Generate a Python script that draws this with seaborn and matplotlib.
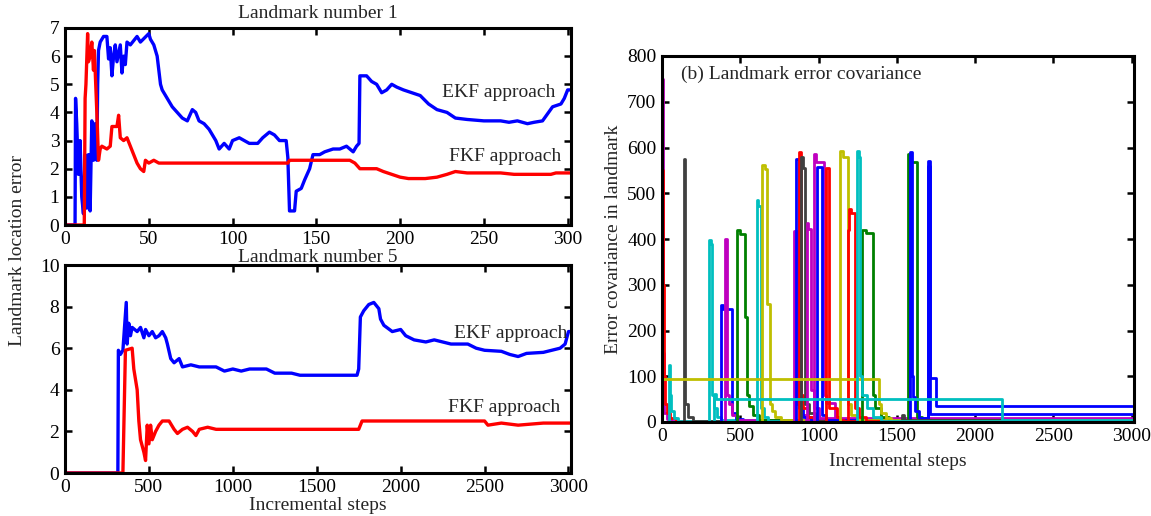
import matplotlib
matplotlib.use("Agg")
import matplotlib.pyplot as plt
import numpy as np
import pandas as pd
import seaborn as sns

# ---------------- Landmark 1 location error (steps 0-300) ----------------
lm1_ekf_step = [0, 6, 6.3, 7, 8, 9, 10, 11, 12, 13, 14, 15, 16, 17, 18, 19, 19.5, 20, 21, 23,
                25, 26, 27, 28, 29, 30, 31, 33, 34, 35, 36, 37, 39, 43, 45, 50, 51, 53, 55, 57,
                58, 61, 64, 67, 70, 73, 76, 78, 80, 83, 86, 88, 90, 92, 95, 98, 100, 104, 110,
                115, 118, 122, 125, 128, 132, 133, 134, 137, 138, 141, 143, 146, 148, 152, 155,
                160, 164, 168, 172, 174, 175.5, 176, 180, 183, 186, 189, 192, 195, 198, 202, 207,
                212, 217, 222, 228, 233, 240, 250, 260, 265, 270, 276, 280, 285, 288, 291, 296,
                298, 300, 302]
lm1_ekf_err = [0, 0, 4.5, 3.6, 1.8, 3.0, 1.0, 0.4, 2.5, 0.6, 2.5, 0.5, 3.7, 2.3, 3.6, 2.3, 5.0,
               6.2, 6.5, 6.7, 6.7, 5.9, 6.3, 5.3, 6.0, 6.4, 5.8, 6.4, 5.4, 6.0, 5.7, 6.5, 6.4,
               6.7, 6.5, 6.8, 6.6, 6.4, 6.0, 5.0, 4.8, 4.5, 4.2, 4.0, 3.8, 3.7, 4.1, 4.0, 3.7,
               3.6, 3.4, 3.2, 3.0, 2.7, 2.9, 2.7, 3.0, 3.1, 2.9, 2.9, 3.1, 3.3, 3.2, 3.0, 3.0,
               2.4, 0.5, 0.5, 1.2, 1.3, 1.6, 2.0, 2.5, 2.5, 2.6, 2.7, 2.7, 2.8, 2.6, 2.8, 2.9,
               5.3, 5.3, 5.1, 5.0, 4.7, 4.8, 5.0, 4.9, 4.8, 4.7, 4.6, 4.3, 4.1, 4.0, 3.8, 3.75,
               3.7, 3.7, 3.65, 3.7, 3.6, 3.65, 3.7, 3.95, 4.2, 4.3, 4.5, 4.8, 4.8]

lm1_fkf_step = [0, 11.5, 12, 12.5, 13.5, 14, 15, 16, 17, 17.5, 18, 19, 20, 21, 22, 25, 27, 28,
                31, 32, 33, 35, 37, 39, 41, 43, 45, 47, 48, 50, 53, 56, 133, 134, 170, 173, 176,
                186, 190, 195, 200, 205, 215, 222, 228, 233, 240, 260, 268, 290, 293, 302]
lm1_fkf_err = [0, 0, 4.5, 5.0, 6.8, 5.8, 6.0, 6.5, 5.5, 6.2, 5.5, 4.0, 2.3, 2.7, 2.8, 2.7, 2.8,
               3.5, 3.5, 3.9, 3.1, 3.0, 3.1, 2.8, 2.5, 2.2, 2.0, 1.9, 2.3, 2.2, 2.3, 2.2, 2.2,
               2.3, 2.3, 2.2, 2.0, 2.0, 1.9, 1.8, 1.7, 1.65, 1.65, 1.7, 1.8, 1.9, 1.85, 1.85,
               1.8, 1.8, 1.85, 1.85]

# ---------------- Landmark 5 location error (steps 0-3000) ----------------
lm5_ekf_step = [0, 315, 318, 330, 345, 365, 370, 380, 390, 400, 430, 450, 470, 480, 500, 520,
                540, 560, 580, 600, 610, 630, 650, 680, 700, 750, 800, 900, 950, 1000, 1050,
                1100, 1200, 1250, 1350, 1400, 1740, 1750, 1760, 1780, 1810, 1840, 1870, 1880,
                1900, 1950, 2000, 2030, 2080, 2150, 2200, 2300, 2400, 2450, 2500, 2600, 2650,
                2700, 2750, 2850, 2900, 2950, 2980, 3000, 3020]
lm5_ekf_err = [0, 0, 5.9, 5.7, 5.9, 8.2, 6.2, 7.2, 6.6, 7.0, 6.8, 7.0, 6.5, 6.9, 6.6, 6.8, 6.5,
               6.6, 6.8, 6.5, 6.2, 5.5, 5.3, 5.5, 5.1, 5.2, 5.1, 5.1, 4.9, 5.0, 4.9, 5.0, 5.0,
               4.8, 4.8, 4.7, 4.7, 5.0, 7.5, 7.8, 8.1, 8.2, 7.9, 7.4, 7.1, 6.8, 6.9, 6.6, 6.4,
               6.3, 6.4, 6.2, 6.2, 6.0, 5.9, 5.85, 5.7, 5.6, 5.75, 5.8, 5.9, 6.0, 6.2, 6.8, 6.8]

lm5_fkf_step = [0, 345, 360, 400, 410, 430, 440, 450, 470, 480, 490, 500, 510, 520, 540, 560,
                580, 620, 650, 670, 700, 730, 760, 780, 800, 850, 900, 1750, 1770, 2500, 2520,
                2600, 2700, 2850, 3020]
lm5_fkf_err = [0, 0, 5.9, 6.0, 5.0, 4.0, 2.5, 1.6, 1.0, 0.6, 2.3, 1.4, 2.3, 1.6, 2.0, 2.3, 2.5,
               2.5, 2.1, 1.9, 2.1, 2.2, 2.0, 1.8, 2.1, 2.2, 2.1, 2.1, 2.5, 2.5, 2.3, 2.4, 2.3,
               2.4, 2.4]

# ---------------- Landmark error covariance, one list pair per landmark ----------------
BLUE, RED, GREEN = "#0000ff", "#ff0000", "#008000"
CYAN, MAGENTA, YELLOW, GRAY = "#00bfbf", "#bf00bf", "#bfbf00", "#404040"

landmarks = [
    # (colour, steps, covariance)
    (MAGENTA, [0, 4, 7, 10, 15, 30, 60, 3000], [750, 400, 150, 60, 20, 6, 2, 2]),
    (RED, [0, 3, 8, 12, 20, 30, 50, 90, 3000], [0, 550, 300, 100, 40, 20, 8, 3, 3]),
    (CYAN, [0, 45, 52, 60, 75, 100, 3000], [0, 125, 60, 25, 8, 3, 2]),
    (GRAY, [0, 140, 150, 165, 200, 3000], [0, 575, 40, 10, 3, 2]),
    (CYAN, [0, 300, 310, 318, 330, 350, 380, 3000], [0, 398, 390, 60, 30, 12, 4, 2]),
    (BLUE, [0, 375, 392, 450, 470, 520, 3000], [0, 255, 248, 20, 6, 2, 2]),
    (MAGENTA, [0, 405, 415, 430, 450, 480, 3000], [0, 400, 60, 40, 15, 4, 2]),
    (GREEN, [0, 480, 500, 530, 540, 555, 580, 620, 3000], [0, 420, 410, 230, 60, 35, 15, 4, 2]),
    (CYAN, [0, 605, 615, 635, 650, 680, 3000], [0, 485, 472, 30, 10, 3, 2]),
    (YELLOW, [0, 640, 655, 670, 690, 700, 720, 760, 3000], [0, 562, 552, 258, 40, 25, 12, 4, 2]),
    (MAGENTA, [0, 845, 860, 880, 920, 3000], [0, 418, 40, 15, 4, 2]),
    (BLUE, [0, 858, 875, 900, 950, 3000], [0, 575, 30, 10, 3, 2]),
    (RED, [0, 872, 885, 900, 930, 980, 3000], [0, 590, 60, 30, 10, 3, 2]),
    (GRAY, [0, 888, 900, 915, 940, 980, 1050, 3000], [0, 580, 555, 40, 20, 6, 2, 2]),
    (MAGENTA, [0, 925, 935, 950, 970, 1000, 3000], [0, 435, 422, 70, 30, 8, 2]),
    (MAGENTA, [0, 968, 985, 1035, 1045, 1105, 1115, 1150, 3000], [0, 585, 568, 60, 42, 12, 5, 2, 2]),
    (BLUE, [0, 993, 1025, 1050, 3000], [0, 558, 15, 5, 2]),
    (RED, [0, 1048, 1065, 1120, 1135, 1160, 3000], [0, 555, 30, 12, 5, 2, 2]),
    (YELLOW, [0, 1138, 1155, 1185, 1210, 1250, 3000], [0, 593, 580, 40, 15, 4, 2]),
    (RED, [0, 1185, 1195, 1210, 1235, 1260, 1300, 3000], [0, 420, 465, 457, 30, 10, 3, 2]),
    (GREEN, [0, 1275, 1300, 1345, 1360, 1400, 1450, 3000], [0, 420, 413, 60, 30, 10, 3, 2]),
    (GREEN, [0, 1572, 1590, 1632, 1660, 1700, 2170, 3000], [0, 585, 568, 12, 6, 4, 2, 2]),
    (BLUE, [0, 1585, 1598, 1606, 1615, 1640, 1700, 3000], [0, 590, 100, 55, 25, 8, 3, 2]),
    (BLUE, [0, 1700, 1712, 1748, 3000], [0, 570, 96, 34, 34]),
    (BLUE, [0, 1702, 1711, 3000], [0, 560, 18, 18]),
    (GRAY, [0, 1535, 1545, 2480, 3000], [0, 15, 4, 1, 1]),
    (YELLOW, [0, 1385, 1400, 1430, 1460, 3000], [95, 40, 20, 8, 3, 2]),
    (CYAN, [0, 1243, 1258, 1262, 1280, 1310, 1350, 1400, 3000], [0, 592, 580, 100, 60, 30, 10, 3, 2]),
    (CYAN, [0, 330, 345, 2170, 3000], [0, 62, 50, 4, 4]),
]

# ---------------- styling ----------------
sns.set_theme(style="ticks")
plt.rcParams["font.family"] = ["Liberation Serif", "DejaVu Serif"]
plt.rcParams["axes.linewidth"] = 2.0
FS = 14


def frame(ax, xlim, ylim, xticks, yticks):
    ax.set_xlim(*xlim)
    ax.set_ylim(*ylim)
    ax.set_xticks(xticks)
    ax.set_yticks(yticks)
    ax.tick_params(direction="in", top=True, right=True, length=5, width=1.8,
                   labelsize=FS, colors="black", pad=4)
    for s in ax.spines.values():
        s.set_color("black")
        s.set_linewidth(2.2)
    ax.set_xlabel("")
    ax.set_ylabel("")


fig = plt.figure(figsize=(11.51, 5.16), dpi=100)
W, H = 1151, 516


def box(l, t, r, b):
    return [l / W, 1 - b / H, (r - l) / W, (b - t) / H]


ax1 = fig.add_axes(box(65, 28, 571, 225))
ax2 = fig.add_axes(box(65, 265, 571, 473))
ax3 = fig.add_axes(box(662, 56, 1134, 422))

lw_err = 2.4
sns.lineplot(x=lm1_ekf_step, y=lm1_ekf_err, ax=ax1, color=BLUE, lw=lw_err, estimator=None, sort=False)
sns.lineplot(x=lm1_fkf_step, y=lm1_fkf_err, ax=ax1, color=RED, lw=lw_err, estimator=None, sort=False)
frame(ax1, (0, 302), (0, 7), range(0, 301, 50), range(0, 8))
ax1.set_title("Landmark number 1", fontsize=FS, pad=7)
ax1.text(225, 4.7, "EKF approach", fontsize=FS, va="center", ha="left")
ax1.text(229, 2.42, "FKF approach", fontsize=FS, va="center", ha="left")

sns.lineplot(x=lm5_ekf_step, y=lm5_ekf_err, ax=ax2, color=BLUE, lw=lw_err, estimator=None, sort=False)
sns.lineplot(x=lm5_fkf_step, y=lm5_fkf_err, ax=ax2, color=RED, lw=lw_err, estimator=None, sort=False)
frame(ax2, (0, 3015), (0, 10), range(0, 3001, 500), range(0, 11, 2))
ax2.set_title("Landmark number 5", fontsize=FS, pad=2)
ax2.set_xlabel("Incremental steps", fontsize=FS, labelpad=1)
ax2.text(2320, 6.73, "EKF approach", fontsize=FS, va="center", ha="left")
ax2.text(2280, 3.17, "FKF approach", fontsize=FS, va="center", ha="left")

fig.text(18 / W, 1 - 250 / H, "Landmark location error", rotation=90,
         fontsize=FS, va="center", ha="center")

# covariance traces, one step line per landmark
rows = []
for i, (col, st, cv) in enumerate(landmarks):
    for s, c in zip(st, cv):
        rows.append({"step": s, "cov": c, "lm": i})
cov_df = pd.DataFrame(rows)
palette = {i: col for i, (col, _, _) in enumerate(landmarks)}
sns.lineplot(data=cov_df, x="step", y="cov", hue="lm", palette=palette, ax=ax3,
             estimator=None, sort=False, drawstyle="steps-post", lw=2.0, legend=False)
frame(ax3, (0, 3015), (0, 800), range(0, 3001, 500), range(0, 801, 100))
ax3.set_xlabel("Incremental steps", fontsize=FS, labelpad=6)
ax3.set_ylabel("Error covariance in landmark", fontsize=FS, labelpad=4)
ax3.text(0.04, 0.951, "(b) Landmark error covariance", transform=ax3.transAxes,
         fontsize=FS, va="center", ha="left")

fig.savefig("out.png", dpi=100, facecolor="white")
